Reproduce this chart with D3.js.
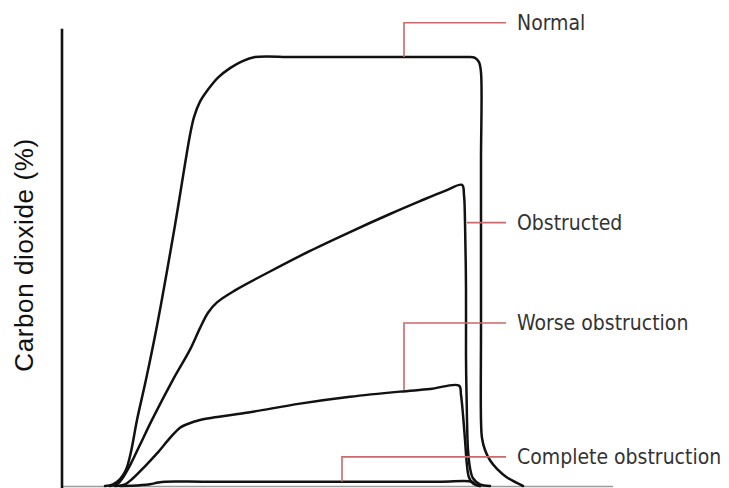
<!DOCTYPE html>
<html>
<head>
<meta charset="utf-8">
<script src="https://cdn.jsdelivr.net/npm/d3@7"></script>
<style>
  html, body { margin: 0; padding: 0; background: #fff; }
  svg { display: block; }
</style>
</head>
<body>
<svg id="chart" width="729" height="488"></svg>
<script>
// ---- Data (time in s, CO2 in %) ----
const seriesNames = ["Normal", "Obstructed", "Worse obstruction", "Complete obstruction"];

const normalT = [0.43, 0.51, 0.58, 0.64, 0.69, 0.75, 0.84, 0.96, 1.13, 1.28, 1.32, 1.38, 1.46, 1.56, 1.68, 1.80, 1.93, 2.30, 2.70, 3.10, 3.50, 3.85, 4.06, 4.13, 4.17, 4.19, 4.19, 4.19, 4.19, 4.19, 4.20, 4.23, 4.28, 4.35, 4.45, 4.61];
const normalV = [0, 0.02, 0.08, 0.19, 0.40, 0.77, 1.24, 1.93, 3.04, 4.09, 4.30, 4.48, 4.62, 4.76, 4.87, 4.95, 5.00, 5.00, 5.00, 5.00, 5.00, 5.00, 5.00, 4.99, 4.94, 4.82, 3.80, 2.80, 1.80, 0.77, 0.56, 0.42, 0.30, 0.20, 0.10, 0];

const obstructedT = [0.48, 0.56, 0.61, 0.68, 0.78, 0.90, 1.11, 1.28, 1.38, 1.46, 1.55, 1.73, 2.08, 2.48, 2.88, 3.28, 3.58, 3.83, 4.00, 4.02, 4.03, 4.04, 4.04, 4.05, 4.06, 4.08, 4.11, 4.18, 4.28];
const obstructedV = [0, 0.03, 0.10, 0.24, 0.48, 0.77, 1.24, 1.59, 1.84, 2.02, 2.14, 2.28, 2.50, 2.74, 2.96, 3.17, 3.32, 3.44, 3.51, 3.39, 3.08, 2.30, 1.50, 0.77, 0.42, 0.21, 0.09, 0.02, 0];

const worseT = [0.53, 0.63, 0.71, 0.83, 0.95, 1.08, 1.18, 1.25, 1.38, 1.88, 2.38, 2.88, 3.38, 3.68, 3.97, 3.99, 4.01, 4.03, 4.05, 4.07, 4.11, 4.18];
const worseV = [0, 0.02, 0.09, 0.23, 0.38, 0.56, 0.68, 0.72, 0.77, 0.86, 0.96, 1.04, 1.10, 1.13, 1.17, 1.06, 0.83, 0.54, 0.24, 0.10, 0.03, 0];

const completeT = [0.58, 0.78, 0.88, 0.96, 1.03, 1.40, 1.80, 2.20, 2.60, 3.00, 3.40, 3.80, 4.10, 4.13, 4.18];
const completeV = [0, 0.01, 0.02, 0.04, 0.05, 0.05, 0.05, 0.05, 0.05, 0.05, 0.05, 0.05, 0.05, 0.02, 0];

// annotation anchors: point on curve (t, v), elbow label level (v)
const labelAnchorT = [3.42, 4.05, 3.42, 2.80];
const labelAnchorV = [5.00, 3.07, 1.12, 0.05];
const labelLevelV  = [5.40, 3.07, 1.90, 0.34];
const labelLineEndT = 4.44;
const labelTextT = 4.55;

const yAxisLabel = "Carbon dioxide (%)";
const baselineEndT = 5.51;

// ---- Scales ----
const x = d3.scaleLinear().domain([0, 6.67]).range([62, 729]);
const y = d3.scaleLinear().domain([0, 5]).range([486, 57]);

const svg = d3.select("#chart");

// baseline
svg.append("line")
  .attr("x1", x(0)).attr("x2", x(baselineEndT))
  .attr("y1", y(0) + 0.5).attr("y2", y(0) + 0.5)
  .attr("stroke", "#9a9a9a").attr("stroke-width", 1.5);

// y axis line
svg.append("line")
  .attr("x1", x(0)).attr("x2", x(0))
  .attr("y1", y(5.33)).attr("y2", 488)
  .attr("stroke", "#111").attr("stroke-width", 2.6);

// y axis label
svg.append("text")
  .attr("transform", `translate(33, 255) rotate(-90)`)
  .attr("text-anchor", "middle")
  .attr("font-family", "Liberation Sans, Arial, sans-serif")
  .attr("font-size", 26)
  .attr("letter-spacing", 0.6)
  .attr("fill", "#111")
  .text(yAxisLabel);

// curves
const seriesT = [normalT, obstructedT, worseT, completeT];
const seriesV = [normalV, obstructedV, worseV, completeV];
const line = d3.line().x(d => x(d[0])).y(d => y(d[1])).curve(d3.curveCatmullRom.alpha(0.5));

seriesT.forEach((ts, i) => {
  const pts = ts.map((t, j) => [t, seriesV[i][j]]);
  svg.append("path")
    .attr("d", line(pts))
    .attr("fill", "none")
    .attr("stroke", "#111")
    .attr("stroke-width", 2.5)
    .attr("stroke-linejoin", "round")
    .attr("stroke-linecap", "round");
});

// annotation leaders
const red = "#c86a6c";
seriesNames.forEach((name, i) => {
  const ax = x(labelAnchorT[i]), ay = y(labelAnchorV[i]), ly = y(labelLevelV[i]);
  svg.append("path")
    .attr("d", `M${ax},${ay} L${ax},${ly} L${x(labelLineEndT)},${ly}`)
    .attr("fill", "none")
    .attr("stroke", red)
    .attr("stroke-width", 1.6);
  svg.append("text")
    .attr("x", x(labelTextT))
    .attr("y", ly + 7.5)
    .attr("font-family", "DejaVu Sans Condensed, DejaVu Sans, sans-serif")
    .attr("font-stretch", "condensed")
    .attr("font-size", 21)
    .attr("fill", "#333")
    .text(name);
});
</script>
</body>
</html>
